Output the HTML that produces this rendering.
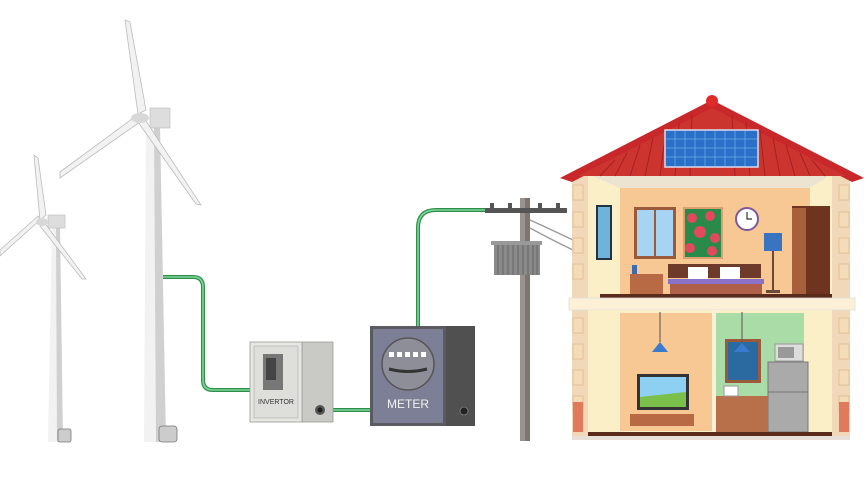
<!DOCTYPE html>
<html><head><meta charset="utf-8"><style>html,body{margin:0;padding:0;background:#fff}svg{display:block}</style></head>
<body>
<svg width="867" height="477" viewBox="0 0 867 477" xmlns="http://www.w3.org/2000/svg" font-family="Liberation Sans, sans-serif">
<!-- cables -->
<path d="M163 277 H193 Q203 277 203 287 V380 Q203 390 213 390 H252" fill="none" stroke="#2f8f4a" stroke-width="4"/>
<path d="M163 277 H193 Q203 277 203 287 V380 Q203 390 213 390 H252" fill="none" stroke="#7ed69a" stroke-width="1.6"/>
<path d="M320 410 H372" stroke="#2f8f4a" stroke-width="4"/><path d="M320 410 H372" stroke="#7ed69a" stroke-width="1.6"/>
<path d="M418 328 V228 Q418 210 436 210 H487" fill="none" stroke="#2f8f4a" stroke-width="4"/>
<path d="M418 328 V228 Q418 210 436 210 H487" fill="none" stroke="#7ed69a" stroke-width="1.6"/>
<!-- small turbine -->
<polygon points="52,226 60,226 63,442 48,442" fill="#f2f2f2"/><polygon points="56,226 60,226 63,442 57,442" fill="#d0d0d0"/>
<rect x="58" y="429" width="13" height="13" rx="2" fill="#ccc" stroke="#777" stroke-width="0.8"/>
<rect x="48" y="215" width="17" height="13" fill="#ddd" stroke="#bbb" stroke-width="0.6"/>
<polygon points="40,220 34,155 38,158 46,215" fill="#f2f2f2" stroke="#bbb" stroke-width="0.8"/>
<polygon points="40,220 0,256 0,250 38,216" fill="#f2f2f2" stroke="#bbb" stroke-width="0.8"/>
<polygon points="44,222 86,279 82,279 40,226" fill="#f2f2f2" stroke="#bbb" stroke-width="0.8"/>
<ellipse cx="42" cy="222" rx="6" ry="4" fill="#d8d8d8"/>
<!-- big turbine -->
<polygon points="146,126 160,126 166,442 144,442" fill="#f2f2f2"/><polygon points="154,126 160,126 166,442 156,442" fill="#d0d0d0"/>
<rect x="159" y="426" width="18" height="16" rx="3" fill="#ccc" stroke="#777" stroke-width="0.8"/>
<rect x="150" y="108" width="20" height="20" fill="#ddd" stroke="#bbb" stroke-width="0.6"/>
<polygon points="138,114 125,20 130,22 146,110" fill="#f2f2f2" stroke="#bbb" stroke-width="0.8"/>
<polygon points="136,116 60,172 60,178 140,122" fill="#f2f2f2" stroke="#bbb" stroke-width="0.8"/>
<polygon points="144,118 201,205 196,204 138,122" fill="#f2f2f2" stroke="#bbb" stroke-width="0.8"/>
<ellipse cx="140" cy="118" rx="9" ry="5" fill="#d8d8d8"/>
<!-- inverter -->
<rect x="302" y="342" width="31" height="80" fill="#c9c9c6" stroke="#999" stroke-width="0.8"/>
<rect x="250" y="342" width="52" height="80" fill="#e6e6e2" stroke="#999" stroke-width="0.8"/>
<rect x="254" y="346" width="44" height="72" fill="#dededa" stroke="#aaa" stroke-width="0.6"/>
<rect x="263" y="354" width="20" height="36" fill="#777"/><rect x="266" y="358" width="10" height="22" fill="#444"/>
<text x="276" y="404" font-size="7" text-anchor="middle" fill="#333">INVERTOR</text>
<circle cx="320" cy="410" r="5" fill="#555"/><circle cx="320" cy="410" r="2.5" fill="#222"/>
<!-- meter -->
<rect x="446" y="326" width="29" height="100" fill="#505050"/>
<rect x="370" y="326" width="76" height="100" fill="#5a5a60"/>
<rect x="373" y="329" width="70" height="94" fill="#7c7f96"/>
<circle cx="408" cy="364" r="26" fill="#8e8e98" stroke="#555" stroke-width="1.5"/>
<g fill="#fff"><rect x="389" y="352" width="5" height="5"/><rect x="397" y="352" width="5" height="5"/><rect x="405" y="352" width="5" height="5"/><rect x="413" y="352" width="5" height="5"/><rect x="421" y="352" width="5" height="5"/></g>
<path d="M389 369 Q408 374 427 369" stroke="#333" stroke-width="3" fill="none"/>
<text x="408" y="408" font-size="12" text-anchor="middle" fill="#f2f2f2">METER</text>
<circle cx="464" cy="411" r="4" fill="#222" stroke="#777"/>
<!-- pole -->
<rect x="520" y="198" width="10" height="243" fill="#9a928d"/><rect x="525" y="198" width="5" height="243" fill="#7d7570"/>
<rect x="485" y="208" width="82" height="5" fill="#555"/>
<g fill="#555"><rect x="490" y="203" width="4" height="6"/><rect x="508" y="203" width="4" height="6"/><rect x="538" y="203" width="4" height="6"/><rect x="556" y="203" width="4" height="6"/></g>
<path d="M530 220 Q552 230 573 240 M530 228 Q552 240 573 250" stroke="#999" stroke-width="1.3" fill="none"/>
<rect x="491" y="241" width="51" height="4" fill="#999"/>
<rect x="494" y="245" width="46" height="30" fill="#8a8a8a"/>
<g stroke="#666" stroke-width="1"><path d="M498 245V275M503 245V275M508 245V275M513 245V275M518 245V275M523 245V275M528 245V275M533 245V275M537 245V275"/></g>
<!-- house -->
<rect x="572" y="176" width="278" height="262" fill="#f0d8b8"/>
<g fill="#f5dcb8" stroke="#e0b890" stroke-width="0.8">
<rect x="573" y="185" width="10" height="15"/><rect x="573" y="212" width="10" height="15"/><rect x="573" y="238" width="10" height="15"/><rect x="573" y="264" width="10" height="15"/><rect x="573" y="318" width="10" height="15"/><rect x="573" y="344" width="10" height="15"/><rect x="573" y="370" width="10" height="15"/><rect x="573" y="396" width="10" height="15"/>
<rect x="839" y="185" width="10" height="15"/><rect x="839" y="212" width="10" height="15"/><rect x="839" y="238" width="10" height="15"/><rect x="839" y="264" width="10" height="15"/><rect x="839" y="318" width="10" height="15"/><rect x="839" y="344" width="10" height="15"/><rect x="839" y="370" width="10" height="15"/><rect x="839" y="396" width="10" height="15"/>
</g>
<rect x="573" y="402" width="10" height="30" fill="#e07a5a"/><rect x="839" y="402" width="10" height="30" fill="#e07a5a"/>
<!-- upper floor -->
<rect x="588" y="174" width="244" height="124" fill="#fbefc8"/>
<polygon points="588,174 832,174 810,188 620,188" fill="#ece4d0"/>
<rect x="620" y="188" width="190" height="108" fill="#f7c894"/>
<rect x="596" y="205" width="16" height="55" fill="#234" /><rect x="598" y="207" width="12" height="51" fill="#6fb3d8"/>
<rect x="634" y="207" width="42" height="52" fill="#9b5a3a"/><rect x="637" y="210" width="17" height="46" fill="#a6d4f2"/><rect x="656" y="210" width="17" height="46" fill="#a6d4f2"/>
<rect x="683" y="207" width="40" height="52" fill="#d9a070"/><rect x="685" y="209" width="36" height="48" fill="#2a8a4a"/>
<g fill="#e04a5a"><circle cx="692" cy="218" r="5"/><circle cx="710" cy="216" r="5"/><circle cx="700" cy="232" r="6"/><circle cx="715" cy="238" r="5"/><circle cx="690" cy="248" r="5"/><circle cx="712" cy="251" r="5"/></g>
<circle cx="747" cy="219" r="11" fill="#fff" stroke="#7a5a9a" stroke-width="2"/><path d="M747 212V219H752" stroke="#333" stroke-width="1.2" fill="none"/>
<rect x="764" y="233" width="18" height="18" fill="#3a74c0"/><rect x="772" y="251" width="2" height="40" fill="#6a4a3a"/><rect x="766" y="290" width="14" height="3" fill="#6a4a3a"/>
<rect x="792" y="206" width="38" height="90" fill="#6e3420"/><rect x="792" y="208" width="14" height="87" fill="#a8603c"/>
<rect x="668" y="264" width="93" height="14" fill="#6e3a2a"/><rect x="688" y="267" width="20" height="12" fill="#fff"/><rect x="720" y="267" width="20" height="12" fill="#fff"/>
<rect x="668" y="279" width="96" height="5" fill="#8a72c8"/><rect x="670" y="284" width="92" height="10" fill="#b0604a"/>
<rect x="630" y="274" width="33" height="20" fill="#b86a44"/><rect x="632" y="265" width="5" height="9" fill="#3a6ab0"/>
<rect x="600" y="294" width="232" height="4" fill="#5a2a1a"/>
<!-- floor slab -->
<rect x="569" y="298" width="286" height="12" fill="#fcf0d6" stroke="#ddd" stroke-width="0.8"/>
<!-- lower -->
<rect x="588" y="310" width="244" height="125" fill="#fbefc8"/>
<rect x="620" y="313" width="100" height="118" fill="#f7c894"/>
<rect x="712" y="310" width="7" height="125" fill="#fcf0d6"/>
<rect x="716" y="313" width="88" height="118" fill="#a9dca6"/>
<path d="M660 312V342" stroke="#555"/><polygon points="660,342 652,352 668,352" fill="#3a7ad0"/>
<rect x="637" y="374" width="52" height="36" fill="#333"/><rect x="640" y="377" width="46" height="30" fill="#8ed0f2"/><polygon points="640,397 686,392 686,407 640,407" fill="#7ac04a"/>
<rect x="630" y="414" width="64" height="12" fill="#b86a44"/>
<rect x="725" y="339" width="36" height="44" fill="#9b5a3a"/><rect x="728" y="342" width="30" height="38" fill="#2a6aa0"/>
<path d="M742 312V343" stroke="#555"/><polygon points="742,343 734,352 750,352" fill="#3a7ad0"/>
<rect x="775" y="344" width="28" height="17" fill="#ddd" stroke="#999"/><rect x="778" y="347" width="16" height="11" fill="#999"/>
<rect x="768" y="362" width="40" height="70" fill="#aaa" stroke="#777"/><path d="M768 392H808" stroke="#777"/>
<rect x="716" y="396" width="52" height="36" fill="#b8704a"/><rect x="724" y="386" width="14" height="10" fill="#fff" stroke="#999"/>
<rect x="588" y="432" width="244" height="6" fill="#5a2a1a"/>
<rect x="572" y="436" width="278" height="4" fill="#e8e0d8"/>
<!-- roof -->
<polygon points="712,100 560,178 572,182 712,110 852,182 864,178" fill="#c8282a"/>
<polygon points="712,108 578,176 846,176" fill="#cc3430"/>
<g stroke="#a82020" stroke-width="1"><path d="M600 176L615 160M615 176L627 153M630 176L640 145M645 176L653 138M660 176L666 130M675 176L679 123M690 176L692 115M735 176L732 115M750 176L746 123M765 176L760 130M780 176L773 138M795 176L786 145M810 176L800 153M825 176L812 160"/></g>
<rect x="665" y="130" width="93" height="37" fill="#2a70c8" stroke="#dde" stroke-width="1.5"/>
<g stroke="#8ac4f0" stroke-width="0.5"><path d="M665 139H758M665 148H758M665 157H758M675 130V167M685 130V167M695 130V167M705 130V167M715 130V167M725 130V167M735 130V167M745 130V167"/></g>
<circle cx="712" cy="101" r="6" fill="#e02a2a"/>
</svg>
</body></html>
